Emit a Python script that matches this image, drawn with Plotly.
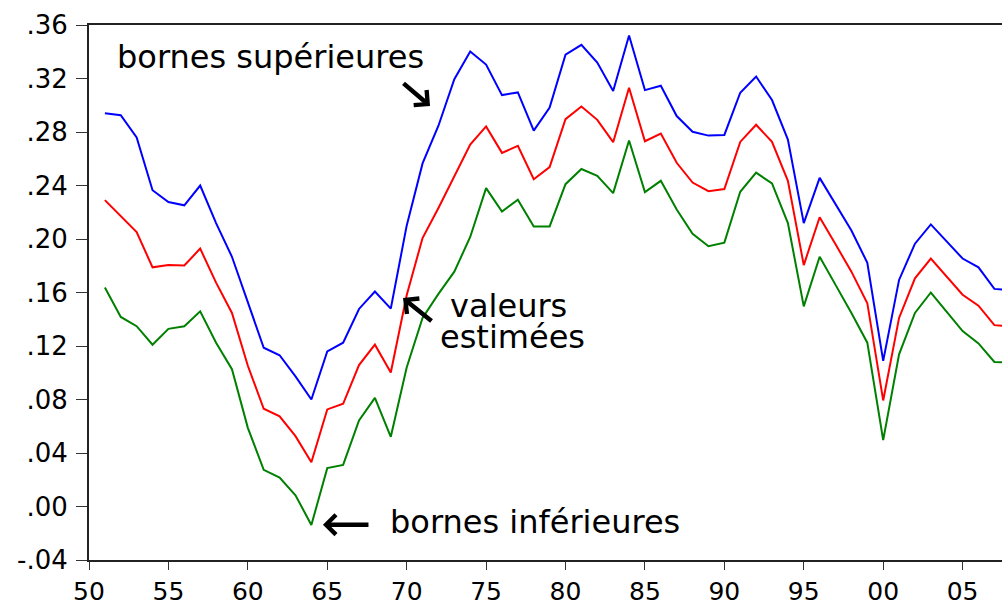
import plotly.graph_objects as go

years = list(range(1951, 2009))

upper = [0.294, 0.2926, 0.276, 0.2365, 0.2276, 0.2252, 0.240, 0.2119, 0.1867, 0.152,
         0.1187, 0.1131, 0.0973, 0.080, 0.116, 0.1225, 0.1477, 0.1607, 0.1479, 0.210,
         0.2565, 0.2847, 0.3195, 0.3402, 0.3304, 0.3076, 0.3096, 0.281, 0.2983, 0.3378,
         0.3452, 0.3319, 0.3106, 0.3521, 0.3113, 0.3146, 0.2919, 0.2802, 0.2773, 0.2778,
         0.3094, 0.3215, 0.3039, 0.2743, 0.2119, 0.2457, 0.2262, 0.2064, 0.1822, 0.1089,
         0.1694, 0.1965, 0.2109, 0.1983, 0.1854, 0.1788, 0.1627, 0.1618]

estimate = [0.2291, 0.2173, 0.2052, 0.1788, 0.1805, 0.1802, 0.1928, 0.1674, 0.1447, 0.1052,
            0.0731, 0.0674, 0.0526, 0.0331, 0.0726, 0.0768, 0.1057, 0.121, 0.1002, 0.158,
            0.2007, 0.2232, 0.2467, 0.2706, 0.2842, 0.2644, 0.2696, 0.2447, 0.2538, 0.2896,
            0.299, 0.2891, 0.2724, 0.3131, 0.2731, 0.2788, 0.257, 0.2422, 0.2358, 0.2373,
            0.2726, 0.2854, 0.2726, 0.2435, 0.1805, 0.2163, 0.196, 0.1756, 0.152, 0.0793,
            0.141, 0.1706, 0.1854, 0.1719, 0.1583, 0.1501, 0.1356, 0.1348]

lower = [0.1637, 0.1417, 0.1348, 0.121, 0.1328, 0.1348, 0.1459, 0.1225, 0.1027, 0.0588,
         0.0274, 0.0217, 0.0084, -0.0138, 0.0287, 0.0311, 0.0644, 0.0812, 0.0521, 0.1039,
         0.141, 0.159, 0.1756, 0.2015, 0.238, 0.2205, 0.2294, 0.2094, 0.2094, 0.241,
         0.2523, 0.2472, 0.2343, 0.2736, 0.2351, 0.2435, 0.222, 0.2039, 0.1946, 0.1973,
         0.2353, 0.2496, 0.2415, 0.2119, 0.1496, 0.1867, 0.1657, 0.1447, 0.1225, 0.0496,
         0.1138, 0.1447, 0.16, 0.1459, 0.1311, 0.1219, 0.1081, 0.1077]

x_tickvals = [1950, 1955, 1960, 1965, 1970, 1975, 1980, 1985, 1990, 1995, 2000, 2005]
x_ticktext = ["50", "55", "60", "65", "70", "75", "80", "85", "90", "95", "00", "05"]
y_tickvals = [-0.04, 0.0, 0.04, 0.08, 0.12, 0.16, 0.20, 0.24, 0.28, 0.32, 0.36]
y_ticktext = ["-.04", ".00", ".04", ".08", ".12", ".16", ".20", ".24", ".28", ".32", ".36"]

FONT = "DejaVu Sans"

fig = go.Figure()
fig.add_trace(go.Scatter(x=years, y=upper, mode="lines", line=dict(color="#0000FF", width=2), name="upper"))
fig.add_trace(go.Scatter(x=years, y=estimate, mode="lines", line=dict(color="#FF0000", width=2), name="estimate"))
fig.add_trace(go.Scatter(x=years, y=lower, mode="lines", line=dict(color="#008000", width=2), name="lower"))

text_font = dict(family=FONT, size=32, color="black")
arrow_style = dict(text="", showarrow=True, arrowhead=4, arrowwidth=4.5,
                   arrowsize=0.85, arrowcolor="black", standoff=0)
annotations = [
    dict(x=1961.4, y=0.3363, text="bornes supérieures", showarrow=False, font=text_font,
         xanchor="center", yanchor="middle"),
    dict(x=1976.4, y=0.1499, text="valeurs", showarrow=False, font=text_font,
         xanchor="center", yanchor="middle"),
    dict(x=1976.64, y=0.1268, text="estimées", showarrow=False, font=text_font,
         xanchor="center", yanchor="middle"),
    dict(x=1978.07, y=-0.0114, text="bornes inférieures", showarrow=False, font=text_font,
         xanchor="center", yanchor="middle"),
    dict(x=1971.47, y=0.2994, ax=-28, ay=-24, **arrow_style),
    dict(x=1969.77, y=0.1558, ax=30, ay=24, **arrow_style),
    dict(x=1964.73, y=-0.0136, ax=47, ay=0, **arrow_style),
]

fig.update_layout(
    width=1002, height=606,
    margin=dict(l=89, r=0, t=25, b=40, pad=0),
    paper_bgcolor="white", plot_bgcolor="white",
    showlegend=False,
    annotations=annotations,
    xaxis=dict(
        range=[1950, 2007.48],
        tickvals=x_tickvals, ticktext=x_ticktext,
        ticks="outside", ticklen=8, tickwidth=1, tickcolor="#333",
        showline=True, linecolor="#222", linewidth=2, mirror=True,
        showgrid=False, zeroline=False,
        tickfont=dict(family=FONT, size=25, color="black"),
    ),
    yaxis=dict(
        range=[-0.04, 0.36],
        tickvals=y_tickvals, ticktext=y_ticktext,
        ticks="outside", ticklen=11, tickwidth=1, tickcolor="#333",
        showline=True, linecolor="#222", linewidth=2,
        showgrid=False, zeroline=False,
        tickfont=dict(family=FONT, size=26, color="black"),
        ticklabelstandoff=3,
    ),
)

fig.write_html(
    "out.html",
    config={"displayModeBar": False},
    post_script="document.body.style.margin='0';document.body.style.overflow='hidden';",
)
